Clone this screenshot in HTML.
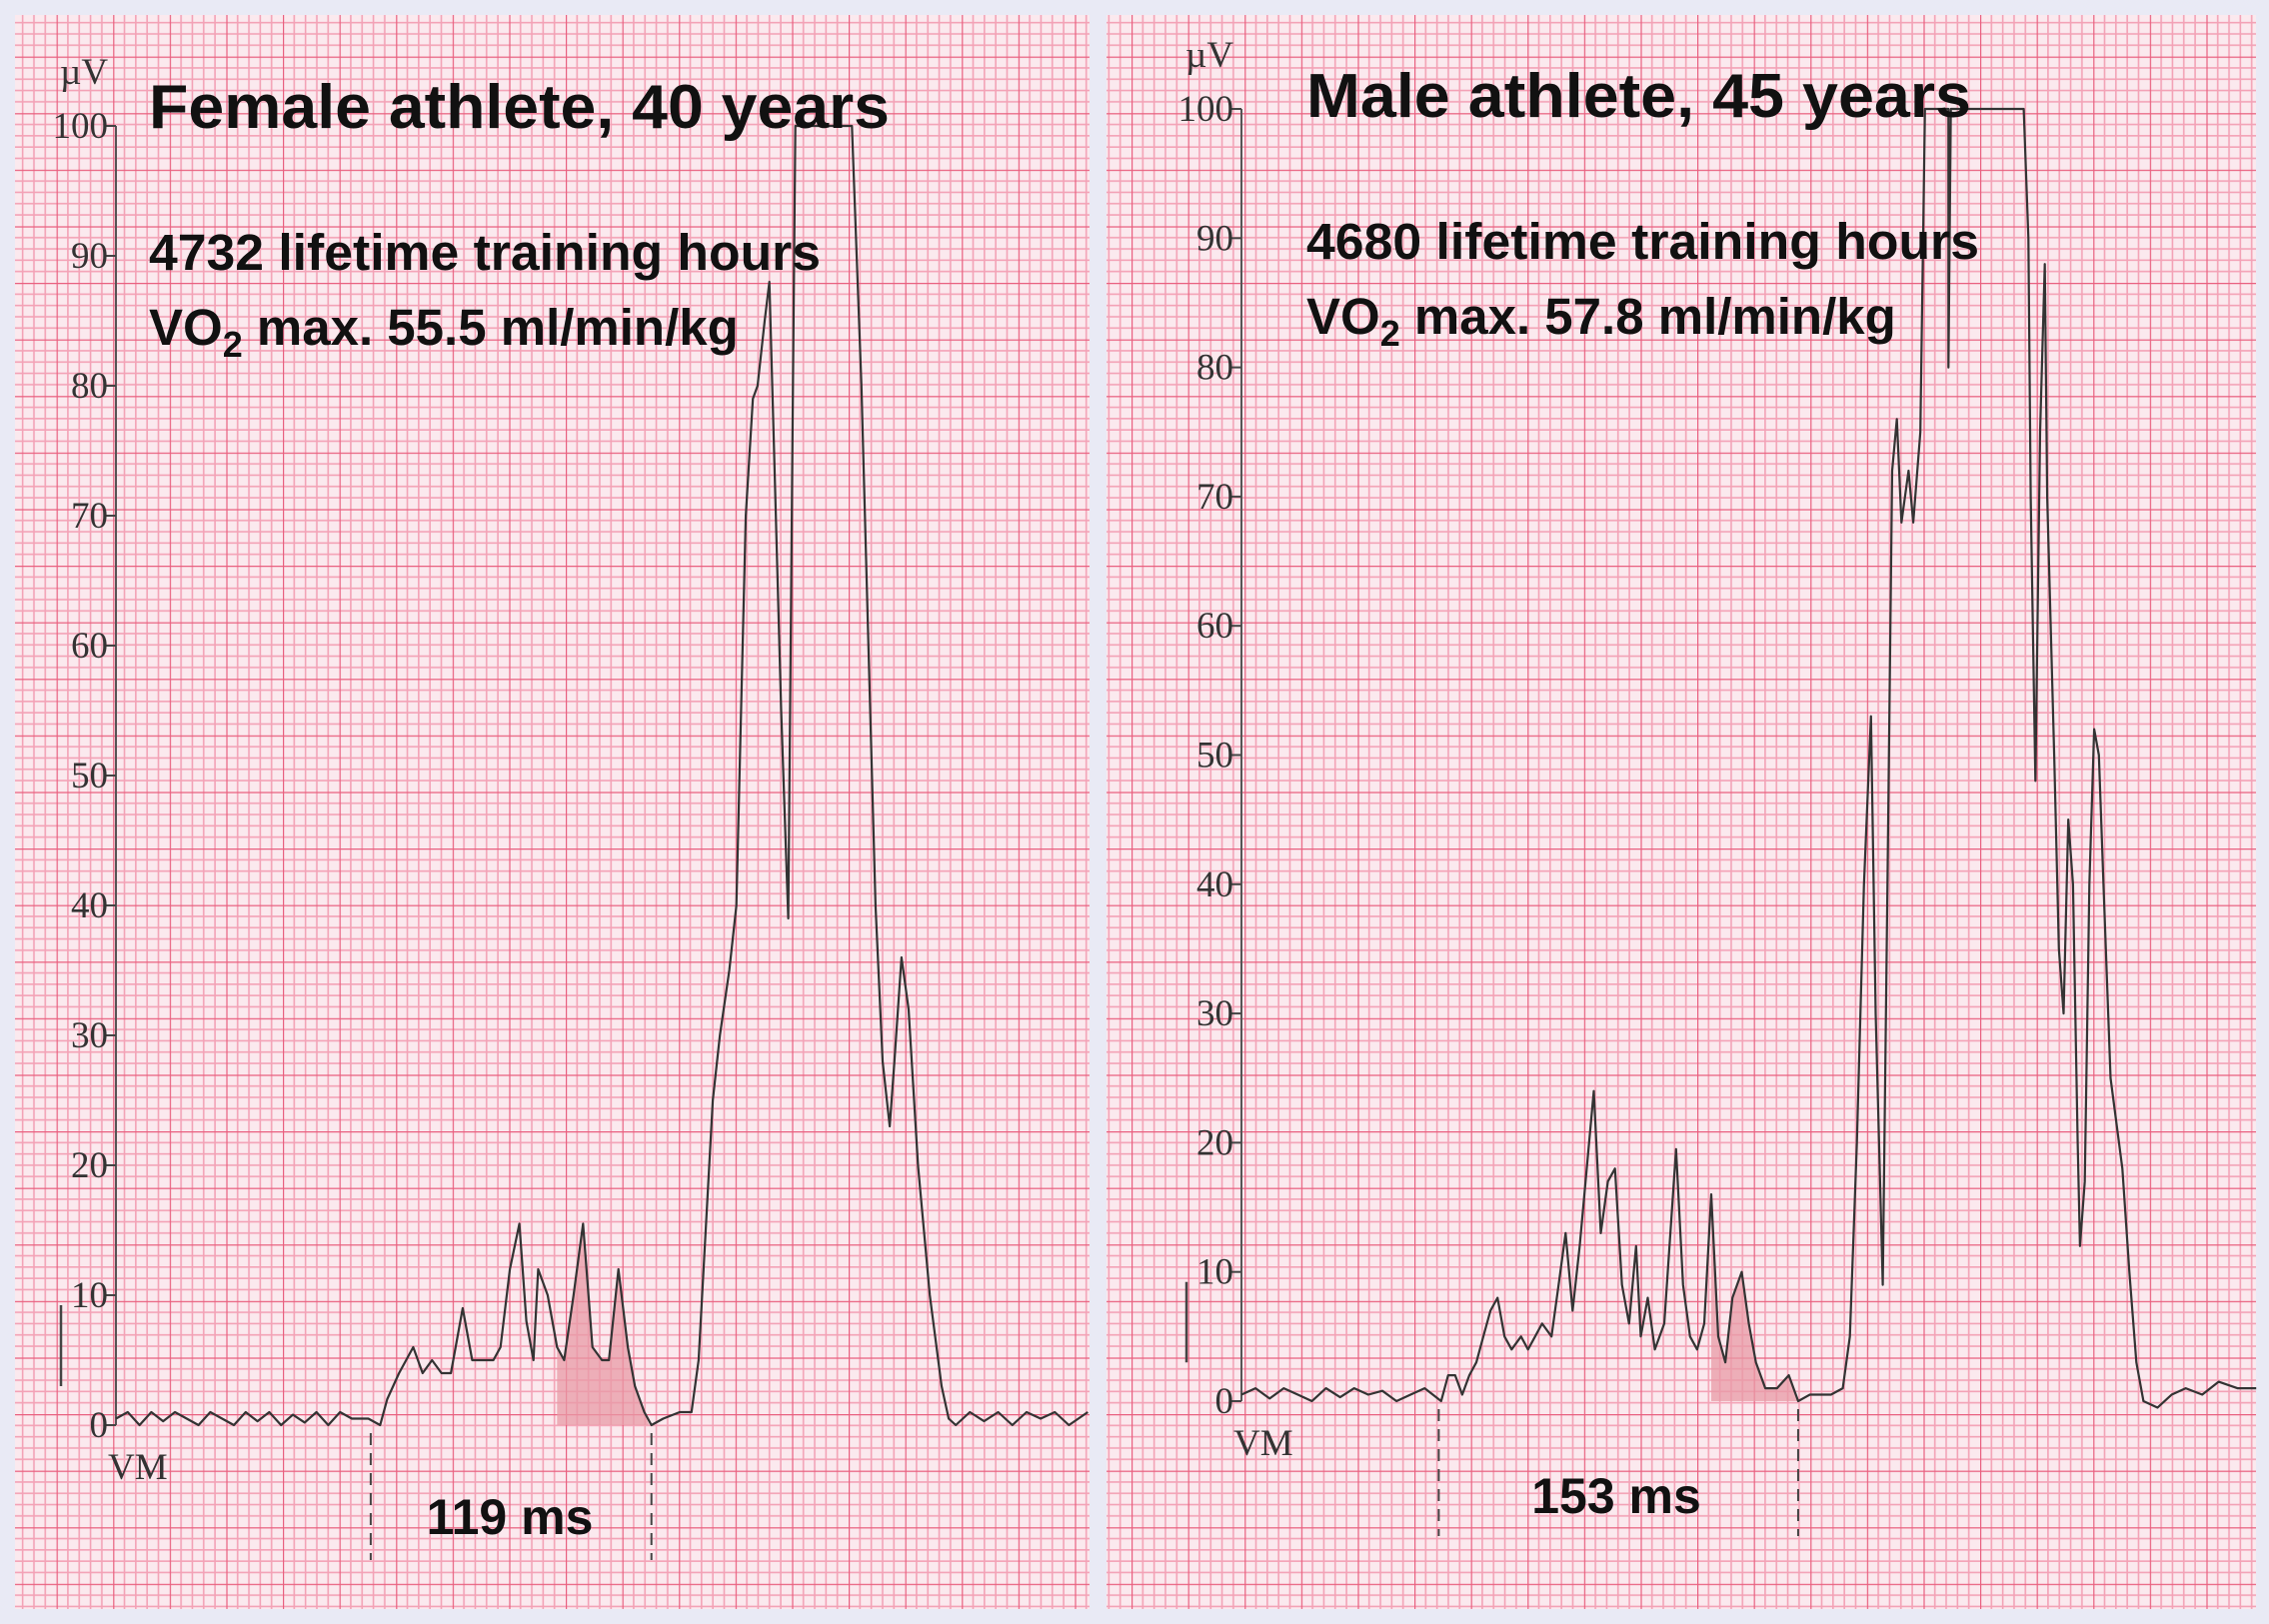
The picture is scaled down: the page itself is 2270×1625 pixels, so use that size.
<!DOCTYPE html>
<html><head><meta charset="utf-8"><style>
html,body{margin:0;padding:0;background:#e9eaf5;}
svg{display:block;}
.tk{font-family:"Liberation Serif",serif;font-size:37px;fill:#333;}
.tt{font-family:"Liberation Sans",sans-serif;font-weight:bold;fill:#111;}
</style></head><body>
<svg id="c" width="2270" height="1625" viewBox="0 0 2270 1625" xmlns="http://www.w3.org/2000/svg">
<defs>
<pattern id="grid" x="0" y="0" width="56.6" height="56.6" patternUnits="userSpaceOnUse">
<rect width="56.6" height="56.6" fill="#fbe9ee"/>
<path d="M11.32 0V56.6M22.64 0V56.6M33.96 0V56.6M45.28 0V56.6M0 11.32H56.6M0 22.64H56.6M0 33.96H56.6M0 45.28H56.6" stroke="#f3a2b6" stroke-width="1.6"/>
<path d="M0 0V56.6M0 0H56.6" stroke="#e9607f" stroke-width="2.4"/>
</pattern>
</defs>
<rect x="15" y="15" width="1075" height="1595" fill="url(#grid)"/>
<rect x="1107" y="15" width="1150" height="1595" fill="url(#grid)"/>
<g id="plots"></g>
<text class="tt" x="149" y="128" font-size="62" textLength="741" lengthAdjust="spacingAndGlyphs">Female athlete, 40 years</text>
<text class="tt" x="149" y="270" font-size="51" textLength="672" lengthAdjust="spacingAndGlyphs">4732 lifetime training hours</text>
<text class="tt" x="149" y="345" font-size="51">VO<tspan font-size="36" dy="12">2</tspan><tspan dy="-12"> max. 55.5 ml/min/kg</tspan></text>
<text class="tt" x="1307" y="117" font-size="62" textLength="665" lengthAdjust="spacingAndGlyphs">Male athlete, 45 years</text>
<text class="tt" x="1307" y="259" font-size="51" textLength="673" lengthAdjust="spacingAndGlyphs">4680 lifetime training hours</text>
<text class="tt" x="1307" y="334" font-size="51">VO<tspan font-size="36" dy="12">2</tspan><tspan dy="-12"> max. 57.8 ml/min/kg</tspan></text>
<text class="tt" x="510" y="1535" font-size="50" text-anchor="middle">119 ms</text>
<text class="tt" x="1617" y="1514" font-size="50" text-anchor="middle">153 ms</text>
</svg>
<script>
const yTicks=[0,10,20,30,40,50,60,70,80,90,100];
const leftMs=[0,5,10,15,20,25,30,35,40,45,50,55,60,65,70,75,80,85,90,95,100,107,112,115,120,126,130,134,138,142,147,151,155,160,163,167,171,174,177,179,183,187,190,194,198,202,206,209,213,217,220,224,227,232,239,244,247,250,253,256,260,263,265,267,270,272,275,277,279,282,285,286,287,288,312,316,319,322,325,328,330,333,336,340,345,350,353,356,362,368,374,380,386,392,398,404,412];
const leftUv=[0.5,1,0,1,0.3,1,0.5,0,1,0.5,0,1,0.3,1,0,0.8,0.2,1,0,1,0.5,0.5,0,2,4,6,4,5,4,4,9,5,5,5,6,12,15.5,8,5,12,10,6,5,10,15.5,6,5,5,12,6,3,1,0,0.5,1,1,5,15,25,30,35,40,55,70,79,80,85,88,75,55,39,60,80,100,100,80,60,40,28,23,28,36,32,20,10,3,0.5,0,1,0.3,1,0,1,0.5,1,0,1,0.5,1,0.3];
const leftShade=[187,226];
const rightMs=[0,6,12,18,24,30,36,42,48,54,60,66,72,78,85,88,91,94,97,100,103,106,109,112,115,119,122,125,128,132,135,138,141,144,148,150,153,156,159,162,165,168,170,173,176,180,185,188,191,194,197,200,203,206,209,213,216,219,223,228,233,237,242,251,256,259,262,265,268,270,273,275,277,279,281,284,286,289,291,301,301,302,333,335,336,338,340,342,343,346,348,350,352,354,356,357,359,361,363,365,367,370,375,378,381,384,390,396,402,409,416,424,432];
const rightUv=[0.5,1,0.2,1,0.5,0,1,0.3,1,0.5,0.8,0,0.5,1,0,2,2,0.5,2,3,5,7,8,5,4,5,4,5,6,5,9,13,7,12,20,24,13,17,18,9,6,12,5,8,4,6,19.5,9,5,4,6,16,5,3,8,10,6,3,1,1,2,0,0.5,0.5,1,5,20,40,53,30,9,40,72,76,68,72,68,75,100,100,80,100,100,90,70,48,75,88,70,50,35,30,45,40,20,12,17,40,52,50,40,25,18,10,3,0,-0.5,0.5,1,0.5,1.5,1,1,1.3,1,0.8];
const rightShade=[200,240];
const NS="http://www.w3.org/2000/svg";
const g=document.getElementById('plots');
function mk(tag,attrs){const e=document.createElementNS(NS,tag);for(const k in attrs)e.setAttribute(k,attrs[k]);g.appendChild(e);return e;}
function panel(side,ox,oy,pxUv,pxMs,ms,uv,shade,dashes,cal){
  const X=t=>ox+t*pxMs, Y=v=>oy-v*pxUv;
  const n=Math.min(ms.length,uv.length);
  let e=mk('line',{x1:ox,y1:Y(0),x2:ox,y2:Y(100),stroke:'#555','stroke-width':2});
  
  
  yTicks.forEach(v=>{
    let t=mk('line',{x1:ox-10,y1:Y(v),x2:ox,y2:Y(v),stroke:'#444','stroke-width':2});
    
    
    let l=mk('text',{x:ox-8,y:Y(v)+12,'text-anchor':'end',class:'tk'});l.textContent=v;
    
    
  });
  let u=mk('text',{x:ox-56,y:Y(100)-42,class:'tk'});u.textContent='µV';
  
  
  let vm=mk('text',{x:ox-8,y:oy+54,class:'tk','font-size':42});vm.textContent='VM';
  
  
  let c=mk('line',{x1:cal,y1:Y(10)+10,x2:cal,y2:Y(3),stroke:'#444','stroke-width':2.5});
  
  
  let pts=[[shade[0],0]];
  for(let i=0;i<n;i++){if(ms[i]>=shade[0]&&ms[i]<=shade[1])pts.push([ms[i],uv[i]]);}
  pts.push([shade[1],0]);
  let sh=mk('polygon',{points:pts.map(p=>X(p[0])+','+Y(p[1])).join(' '),fill:'#e89aa6',opacity:0.75});
  
  
  let d='';
  for(let i=0;i<n;i++)d+=(i?'L':'M')+X(ms[i]).toFixed(1)+' '+Y(uv[i]).toFixed(1)+' ';
  let p=mk('path',{d:d,fill:'none',stroke:'#333','stroke-width':2.2,'stroke-linejoin':'round'});
  
  
  dashes.forEach(t=>{
    let dl=mk('line',{x1:X(t),y1:oy+8,x2:X(t),y2:oy+135,stroke:'#444','stroke-width':2,'stroke-dasharray':'12 8'});
    
    
  });
}
panel('left',116,1426,13.0,2.36,leftMs,leftUv,leftShade,[108,227],61);
panel('right',1242,1402,12.93,2.35,rightMs,rightUv,rightShade,[84,237],1187);
</script>
</body></html>
